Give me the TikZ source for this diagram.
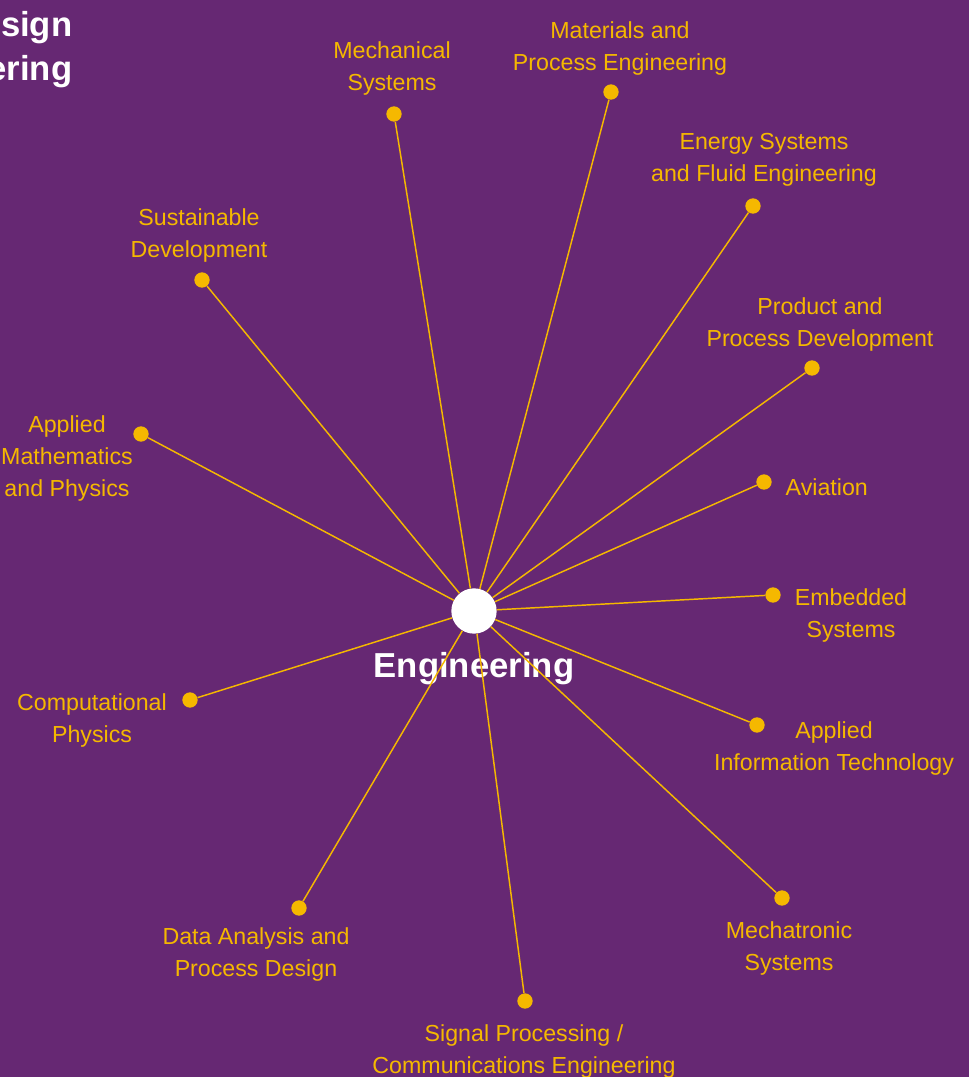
\documentclass[tikz,border=0pt]{standalone}
\usepackage{fontspec}
\setmainfont{Liberation Sans}
\definecolor{bgpurple}{HTML}{662873}
\definecolor{gold}{HTML}{F5B800}
\tikzset{
  dot/.style={circle, fill=gold, inner sep=0pt, minimum size=11.5pt},
  hub/.style={circle, fill=white, inner sep=0pt, minimum size=34pt},
  lbl/.style={text=gold, align=center, font=\fontsize{17.4}{24}\selectfont},
  spoke/.style={gold, line width=1.1pt}
}
\begin{document}
\begin{tikzpicture}[x=0.75pt,y=-0.75pt]
\useasboundingbox (0,0) rectangle (969,1077);
\clip (0,0) rectangle (969,1077);
\fill[bgpurple] (0,0) rectangle (969,1077);
% title of the neighbouring group, cut by the border
\node[anchor=east, align=right, text=white, font=\fontsize{26}{33}\selectfont\bfseries] (design) at (77,50) {Design\\Engineering};
% hub
\node[hub] (eng) at (474,611) {};
\node[text=white, font=\fontsize{26}{30}\selectfont\bfseries] (englbl) at (474,669) {Engineering};
% fields
\node[dot] (mech) at (394,114) {};
\node[dot] (mat) at (611,92) {};
\node[dot] (ener) at (753,206) {};
\node[dot] (prod) at (812,368) {};
\node[dot] (avi) at (764,482) {};
\node[dot] (emb) at (773,595) {};
\node[dot] (ait) at (757,725) {};
\node[dot] (mecha) at (782,898) {};
\node[dot] (sig) at (525,1001) {};
\node[dot] (data) at (299,908) {};
\node[dot] (comp) at (190,700) {};
\node[dot] (math) at (141,434) {};
\node[dot] (sust) at (202,280) {};
\foreach \f in {mech,mat,ener,prod,avi,emb,ait,mecha,sig,data,comp,math,sust}
  \draw[spoke] (eng) -- (\f);
% labels
\node[lbl] (mechlbl) at (392,69) {Mechanical\\Systems};
\node[lbl] (matlbl) at (620,49) {Materials and\\Process Engineering};
\node[lbl] (enerlbl) at (764,160) {Energy Systems\\and Fluid Engineering};
\node[lbl] (prodlbl) at (820,324) {Product and\\Process Development};
\node[lbl, anchor=west] (avilbl) at (781,487) {Aviation};
\node[lbl] (emblbl) at (851,615) {Embedded\\Systems};
\node[lbl] (aitlbl) at (834,748) {Applied\\Information Technology};
\node[lbl] (mechalbl) at (789,948) {Mechatronic\\Systems};
\node[lbl] (siglbl) at (524,1051) {Signal Processing /\\Communications Engineering};
\node[lbl] (datalbl) at (256,954) {Data Analysis and\\Process Design};
\node[lbl] (complbl) at (92,720) {Computational\\Physics};
\node[lbl] (mathlbl) at (67,458) {Applied\\Mathematics\\and Physics};
\node[lbl] (sustlbl) at (199,236) {Sustainable\\Development};
\end{tikzpicture}
\end{document}
